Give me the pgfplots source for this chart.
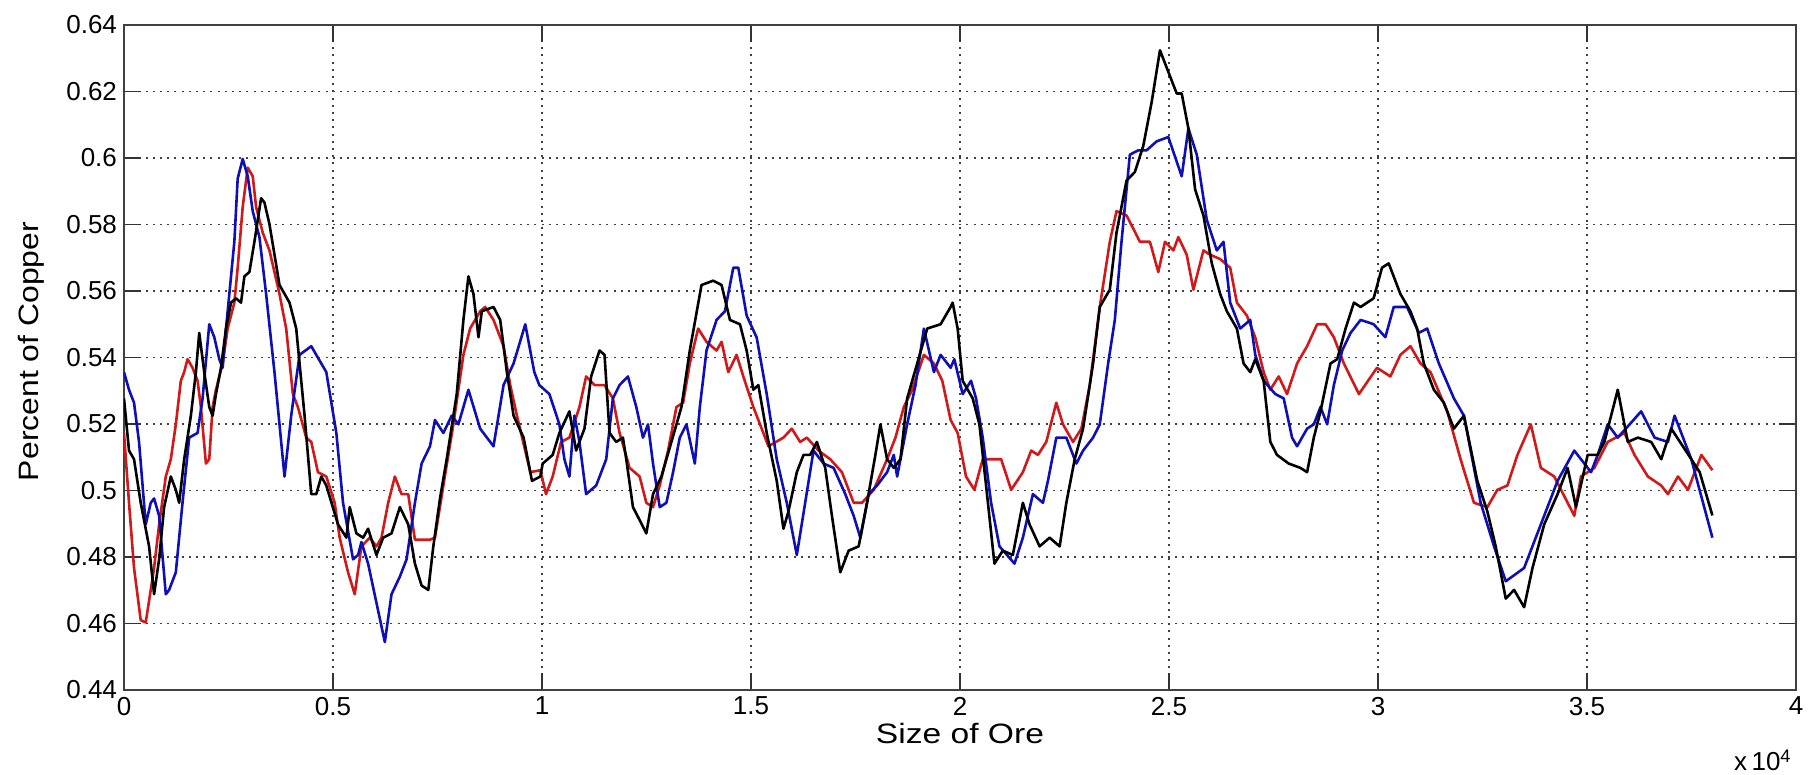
\documentclass[border=0pt]{standalone}
\usepackage{pgfplots}
\pgfplotsset{compat=1.18}
\usepackage{fontspec}
\setmainfont{Liberation Sans}
\definecolor{mred}{rgb}{0.82,0.10,0.10}
\definecolor{mblue}{rgb}{0.06,0.06,0.72}
\begin{document}
\begin{tikzpicture}
\path[use as bounding box] (-62pt,-42.5pt) rectangle (844pt,345pt);
\begin{axis}[
  at={(0,0)}, anchor=south west,
  scale only axis, width=836pt, height=332.5pt,
  xmin=0, xmax=40000, ymin=0.44, ymax=0.64,
  xtick={0,5000,10000,15000,20000,25000,30000,35000,40000},
  xticklabels={0,0.5,1,1.5,2,2.5,3,3.5,4},
  ytick={0.44,0.46,0.48,0.50,0.52,0.54,0.56,0.58,0.60,0.62,0.64},
  yticklabels={0.44,0.46,0.48,0.5,0.52,0.54,0.56,0.58,0.6,0.62,0.64},
  scaled x ticks=false, scaled y ticks=false,
  grid=major,
  grid style={black!75, line width=0.6pt, dash pattern=on 1pt off 2.6pt},
  tick align=inside, major tick length=8.5pt,
  tick style={black!80, line width=0.7pt},
  axis line style={black!75, line width=0.8pt},
  ticklabel style={font=\fontsize{13}{15}\selectfont},
  xlabel={\scalebox{1.2}[1]{Size of Ore}},
  ylabel={\scalebox{1.14}[1]{Percent of Copper}},
  xlabel style={font=\fontsize{14}{16}\selectfont, at={(axis description cs:0.5,-0.0812)}, anchor=base},
  ylabel style={font=\fontsize{14}{16}\selectfont, at={(axis description cs:-0.0514,0.509)}, anchor=base},
  every axis plot/.append style={line width=1.3pt, line join=round},
  clip=true,
]
% red series
\addplot[mred] coordinates {
(0,0.5173)(120,0.4963)(240,0.4767)(400,0.4610)(520,0.4603)(640,0.4701)(720,0.4767)(840,0.4898)(1000,0.5042)(1120,0.5094)(1240,0.5199)(1360,0.5330)(1440,0.5356)(1520,0.5395)(1640,0.5369)(1760,0.5330)(1840,0.5251)(1960,0.5081)(2040,0.5094)(2120,0.5251)(2200,0.5303)(2360,0.5382)(2480,0.5487)(2640,0.5565)(2720,0.5670)(2840,0.5853)(2960,0.5971)(3080,0.5945)(3160,0.5853)(3320,0.5775)(3480,0.5722)(3720,0.5591)(3880,0.5487)(4040,0.5290)(4160,0.5251)(4360,0.5159)(4480,0.5146)(4640,0.5055)(4840,0.5042)(5040,0.4963)(5160,0.4858)(5360,0.4754)(5520,0.4688)(5680,0.4832)(5880,0.4858)(6040,0.4832)(6160,0.4858)(6320,0.4963)(6480,0.5042)(6640,0.4989)(6800,0.4989)(6960,0.4852)(7320,0.4852)(7440,0.4858)(7640,0.5015)(7880,0.5199)(8120,0.5408)(8280,0.5487)(8520,0.5539)(8640,0.5552)(8840,0.5513)(9080,0.5434)(9240,0.5317)(9400,0.5225)(9720,0.5055)(9960,0.5061)(10096,0.4989)(10256,0.5042)(10456,0.5146)(10656,0.5159)(10896,0.5251)(11056,0.5343)(11256,0.5317)(11496,0.5317)(11696,0.5277)(11856,0.5173)(12096,0.5068)(12336,0.5042)(12496,0.4963)(12656,0.4950)(12816,0.5015)(13016,0.5120)(13216,0.5251)(13376,0.5264)(13536,0.5382)(13736,0.5487)(13936,0.5447)(14176,0.5421)(14296,0.5447)(14456,0.5356)(14656,0.5408)(14816,0.5343)(15056,0.5251)(15216,0.5199)(15416,0.5133)(15776,0.5159)(15976,0.5186)(16176,0.5146)(16336,0.5159)(16616,0.5120)(16896,0.5094)(17176,0.5055)(17456,0.4963)(17656,0.4963)(17936,0.5002)(18256,0.5094)(18456,0.5159)(18656,0.5251)(18856,0.5303)(19136,0.5408)(19376,0.5382)(19576,0.5330)(19776,0.5212)(19944,0.5173)(20144,0.5042)(20344,0.5002)(20544,0.5094)(20984,0.5094)(21224,0.5002)(21504,0.5055)(21704,0.5120)(21864,0.5107)(22064,0.5146)(22304,0.5264)(22464,0.5199)(22704,0.5146)(22904,0.5186)(23104,0.5317)(23344,0.5552)(23584,0.5748)(23744,0.5840)(23984,0.5827)(24144,0.5788)(24304,0.5748)(24544,0.5748)(24744,0.5657)(24904,0.5748)(25104,0.5722)(25224,0.5762)(25424,0.5709)(25584,0.5604)(25824,0.5722)(25984,0.5709)(26224,0.5696)(26464,0.5670)(26624,0.5565)(26864,0.5526)(27064,0.5460)(27264,0.5356)(27424,0.5303)(27624,0.5343)(27824,0.5290)(28064,0.5382)(28304,0.5434)(28544,0.5500)(28744,0.5500)(28944,0.5461)(29184,0.5382)(29544,0.5290)(29976,0.5369)(30296,0.5343)(30536,0.5408)(30776,0.5434)(31016,0.5382)(31256,0.5356)(31656,0.5238)(31976,0.5094)(32296,0.4963)(32616,0.4950)(32856,0.5002)(33096,0.5015)(33336,0.5107)(33656,0.5199)(33896,0.5068)(34216,0.5042)(34696,0.4924)(34856,0.5042)(35176,0.5068)(35496,0.5146)(35896,0.5173)(36136,0.5107)(36456,0.5042)(36776,0.5015)(36936,0.4989)(37176,0.5042)(37416,0.5002)(37736,0.5107)(38000,0.5061)
};
% blue series
\addplot[mblue] coordinates {
(0,0.5356)(120,0.5303)(240,0.5264)(360,0.5146)(520,0.4898)(640,0.4963)(720,0.4976)(840,0.4924)(1000,0.4688)(1080,0.4701)(1240,0.4754)(1400,0.4963)(1560,0.5159)(1760,0.5173)(1880,0.5277)(2040,0.5500)(2160,0.5461)(2280,0.5395)(2360,0.5369)(2440,0.5487)(2520,0.5591)(2640,0.5748)(2720,0.5938)(2840,0.5997)(2960,0.5945)(3080,0.5840)(3240,0.5762)(3400,0.5591)(3600,0.5356)(3840,0.5042)(4000,0.5225)(4200,0.5408)(4480,0.5434)(4840,0.5356)(5080,0.5173)(5240,0.4963)(5480,0.4793)(5600,0.4806)(5680,0.4845)(5840,0.4780)(6040,0.4662)(6240,0.4544)(6400,0.4688)(6600,0.4741)(6760,0.4793)(6960,0.4963)(7120,0.5081)(7320,0.5133)(7440,0.5212)(7640,0.5173)(7840,0.5225)(8000,0.5199)(8240,0.5303)(8520,0.5186)(8840,0.5133)(9080,0.5317)(9320,0.5382)(9600,0.5500)(9816,0.5356)(9936,0.5317)(10176,0.5290)(10416,0.5199)(10536,0.5094)(10656,0.5042)(10776,0.5225)(10896,0.5146)(11056,0.4989)(11296,0.5015)(11536,0.5094)(11696,0.5277)(11856,0.5317)(12056,0.5343)(12256,0.5251)(12416,0.5159)(12536,0.5199)(12656,0.5081)(12816,0.4950)(12976,0.4963)(13136,0.5055)(13296,0.5159)(13456,0.5199)(13656,0.5081)(13776,0.5251)(13936,0.5421)(14176,0.5513)(14376,0.5539)(14576,0.5670)(14696,0.5670)(14896,0.5526)(15136,0.5460)(15376,0.5290)(15616,0.5094)(15856,0.4963)(16096,0.4806)(16296,0.4963)(16496,0.5120)(16736,0.5081)(16976,0.5068)(17256,0.4989)(17456,0.4924)(17616,0.4858)(17816,0.4989)(18016,0.5015)(18256,0.5055)(18416,0.5107)(18496,0.5042)(18736,0.5199)(18936,0.5317)(19136,0.5487)(19376,0.5356)(19536,0.5408)(19776,0.5369)(19864,0.5395)(20064,0.5290)(20264,0.5330)(20384,0.5277)(20544,0.5159)(20744,0.4963)(20944,0.4832)(21304,0.4780)(21504,0.4858)(21744,0.4989)(21984,0.4963)(22104,0.5029)(22304,0.5159)(22544,0.5159)(22784,0.5081)(22944,0.5120)(23184,0.5159)(23344,0.5199)(23544,0.5382)(23704,0.5513)(23864,0.5748)(24064,0.6010)(24264,0.6023)(24464,0.6023)(24704,0.6050)(24984,0.6063)(25304,0.5945)(25464,0.6089)(25664,0.6010)(25904,0.5814)(26144,0.5722)(26304,0.5748)(26464,0.5565)(26704,0.5487)(26944,0.5513)(27064,0.5408)(27264,0.5330)(27544,0.5290)(27744,0.5277)(27944,0.5159)(28064,0.5133)(28304,0.5186)(28464,0.5199)(28624,0.5251)(28784,0.5199)(28944,0.5317)(29144,0.5421)(29344,0.5474)(29584,0.5513)(29896,0.5500)(30176,0.5461)(30376,0.5552)(30696,0.5552)(30976,0.5474)(31176,0.5487)(31456,0.5382)(31816,0.5277)(32056,0.5225)(32456,0.4963)(32776,0.4832)(33056,0.4727)(33496,0.4767)(33896,0.4898)(34296,0.5029)(34696,0.5120)(34856,0.5094)(35096,0.5055)(35256,0.5107)(35496,0.5199)(35736,0.5159)(36296,0.5238)(36616,0.5159)(36936,0.5146)(37096,0.5225)(37496,0.5094)(38000,0.4858)
};
% black series
\addplot[black] coordinates {
(0,0.5277)(120,0.5120)(240,0.5094)(400,0.4963)(600,0.4832)(720,0.4688)(840,0.4793)(960,0.4950)(1120,0.5042)(1240,0.5002)(1320,0.4963)(1440,0.5094)(1600,0.5225)(1720,0.5356)(1800,0.5474)(1920,0.5356)(2040,0.5251)(2120,0.5225)(2200,0.5290)(2320,0.5369)(2440,0.5487)(2560,0.5565)(2680,0.5578)(2800,0.5565)(2880,0.5644)(3000,0.5657)(3120,0.5748)(3280,0.5879)(3360,0.5866)(3480,0.5801)(3720,0.5618)(3960,0.5565)(4120,0.5487)(4320,0.5225)(4480,0.4989)(4600,0.4989)(4720,0.5042)(4840,0.5015)(5120,0.4898)(5320,0.4858)(5400,0.4950)(5560,0.4871)(5720,0.4858)(5840,0.4885)(6040,0.4806)(6200,0.4858)(6400,0.4871)(6600,0.4950)(6800,0.4898)(6960,0.4780)(7120,0.4714)(7280,0.4701)(7400,0.4832)(7560,0.4976)(7720,0.5094)(7960,0.5290)(8120,0.5513)(8240,0.5644)(8360,0.5591)(8480,0.5461)(8560,0.5539)(8840,0.5552)(9000,0.5513)(9160,0.5356)(9320,0.5225)(9560,0.5159)(9760,0.5029)(9960,0.5042)(10016,0.5081)(10256,0.5107)(10416,0.5173)(10656,0.5238)(10816,0.5120)(11016,0.5186)(11176,0.5343)(11376,0.5421)(11496,0.5408)(11616,0.5173)(11776,0.5146)(11936,0.5159)(12016,0.5094)(12176,0.4950)(12336,0.4911)(12496,0.4871)(12656,0.4989)(12856,0.5042)(13096,0.5146)(13336,0.5251)(13536,0.5421)(13816,0.5618)(14096,0.5631)(14296,0.5618)(14496,0.5513)(14736,0.5500)(14896,0.5421)(15056,0.5303)(15176,0.5317)(15376,0.5173)(15616,0.5029)(15776,0.4885)(15896,0.4937)(16096,0.5055)(16256,0.5107)(16416,0.5107)(16576,0.5146)(16776,0.5068)(16936,0.4924)(17136,0.4754)(17336,0.4819)(17576,0.4832)(17776,0.4963)(17976,0.5107)(18096,0.5199)(18256,0.5094)(18416,0.5068)(18576,0.5094)(18736,0.5277)(18976,0.5382)(19216,0.5487)(19536,0.5500)(19776,0.5552)(19824,0.5565)(19944,0.5487)(20064,0.5330)(20304,0.5277)(20464,0.5199)(20624,0.5015)(20824,0.4780)(21024,0.4819)(21264,0.4806)(21504,0.4963)(21664,0.4898)(21904,0.4832)(22144,0.4858)(22384,0.4832)(22544,0.4963)(22744,0.5094)(22944,0.5186)(23184,0.5382)(23344,0.5552)(23584,0.5604)(23744,0.5775)(23984,0.5932)(24184,0.5958)(24384,0.6036)(24584,0.6167)(24784,0.6324)(25024,0.6246)(25184,0.6194)(25304,0.6194)(25464,0.6089)(25624,0.5906)(25824,0.5827)(26024,0.5683)(26224,0.5591)(26384,0.5539)(26624,0.5487)(26784,0.5382)(26944,0.5356)(27064,0.5395)(27264,0.5330)(27424,0.5146)(27584,0.5107)(27864,0.5081)(28144,0.5068)(28304,0.5055)(28464,0.5159)(28624,0.5238)(28864,0.5382)(29024,0.5395)(29224,0.5487)(29424,0.5565)(29584,0.5552)(29896,0.5578)(30096,0.5670)(30256,0.5683)(30536,0.5591)(30776,0.5539)(30936,0.5487)(31096,0.5382)(31336,0.5303)(31576,0.5264)(31816,0.5186)(32056,0.5225)(32376,0.5029)(32616,0.4937)(32816,0.4832)(33056,0.4675)(33256,0.4701)(33496,0.4649)(33696,0.4767)(33976,0.4898)(34296,0.4989)(34536,0.5068)(34736,0.4950)(35016,0.5107)(35256,0.5107)(35416,0.5146)(35736,0.5303)(35976,0.5146)(36216,0.5159)(36536,0.5146)(36776,0.5094)(37016,0.5186)(37496,0.5094)(37696,0.5055)(38000,0.4925)
};
\end{axis}
\node[anchor=base east, font=\fontsize{13}{15}\selectfont, inner sep=0pt] at (834pt,-40.5pt) {x\,10\textsuperscript{4}};
\end{tikzpicture}
\end{document}
